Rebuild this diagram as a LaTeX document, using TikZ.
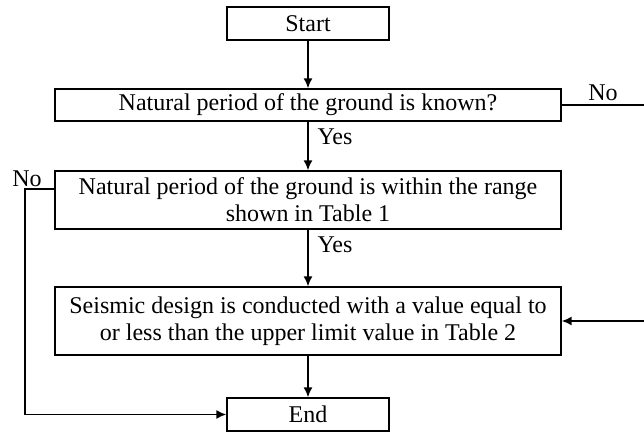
\documentclass[tikz,border=0pt]{standalone}
\usepackage{fontspec}
\setmainfont{Liberation Serif}
\usepackage{tikz}
\usetikzlibrary{arrows.meta}
\tikzstyle{box}=[draw=black, line width=.7pt, minimum width=253pt, inner sep=0pt, align=center]
\tikzstyle{term}=[draw=black, line width=.7pt, minimum width=81pt, minimum height=16.5pt, inner sep=0pt]
\tikzstyle{arr}=[line width=.8pt, -{Latex[length=5pt,width=4.5pt]}]
\tikzstyle{lbl}=[inner sep=0pt]

\begin{document}
\begin{tikzpicture}[x=.5pt, y=-.5pt, font=\fontsize{12pt}{13.6pt}\selectfont]

      \useasboundingbox (0,0) rectangle (644,432);

      \node[term] (start) at (308,23.5) {Start};
      \node[box, minimum height=16pt] (known) at (308,105) {Natural period of the ground is known?};
      \node[box, minimum height=29pt] (range) at (308,200) {Natural period of the ground is within the range\\shown in Table 1};
      \node[box, minimum height=34pt] (design) at (308,321) {Seismic design is conducted with a value equal to\\or less than the upper limit value in Table 2};
      \node[term] (end) at (308,414.5) {End};

      \node[lbl] (yes1) at (335,137) {Yes};
      \node[lbl] (yes2) at (335,245) {Yes};
      \node[lbl] (no1) at (603,93) {No};
      \node[lbl] (no2) at (27,179) {No};

      \coordinate (rturn) at (652,105);
      \coordinate (lturn) at (25,189);

      \draw[arr] (start) -- (known);
      \draw[arr] (known) -- (range);
      \draw[arr] (range) -- (design);
      \draw[arr] (design) -- (end);
      \draw[arr] (known.east) -- (rturn) |- (design.east);
      \draw[arr] (lturn -| range.west) -- (lturn) |- (end.west);

    \end{tikzpicture}
\end{document}
